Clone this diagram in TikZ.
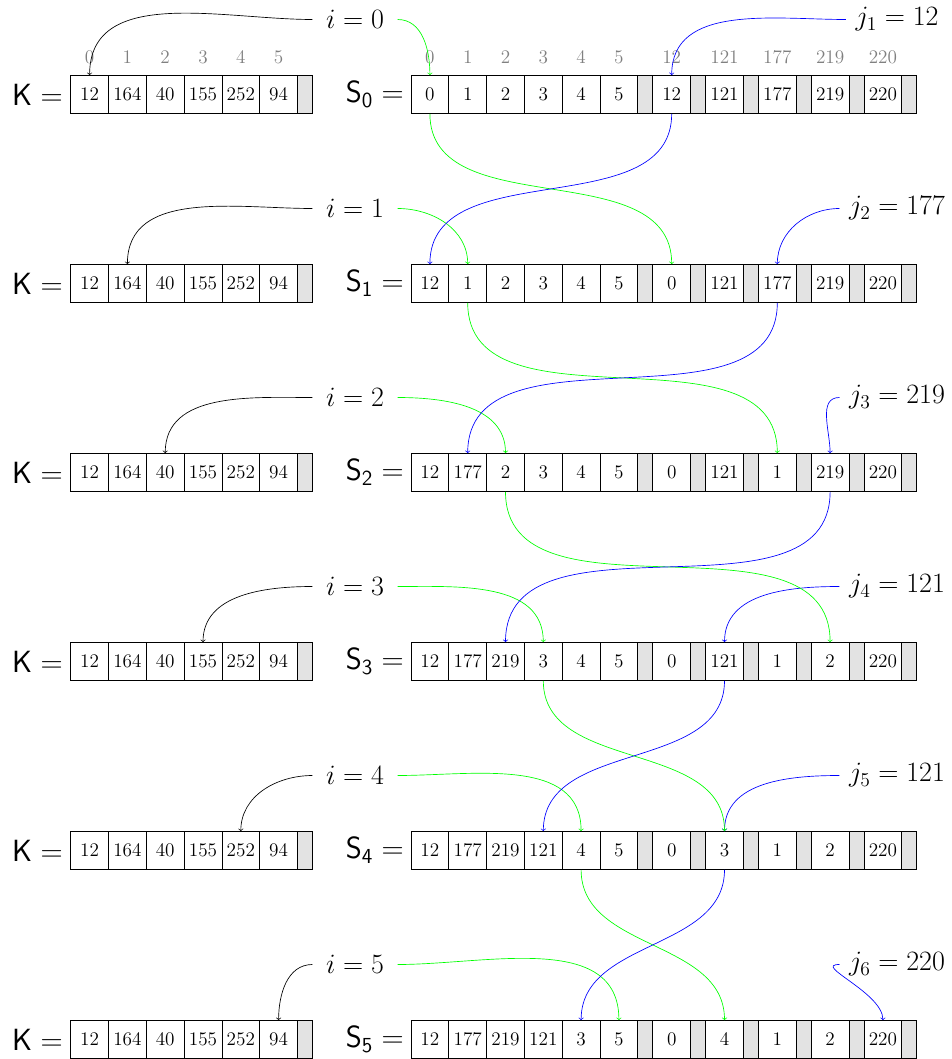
\documentclass[tikz,border=0pt]{standalone}
\usepackage{fix-cm}
\usepackage{amsmath}
\begin{document}
\begin{tikzpicture}[x=0.75pt,y=-0.75pt,
  cell/.style={draw=black, line width=0.6pt, minimum width=28.35pt, minimum height=28.3pt,
               inner sep=0pt, font=\fontsize{14.4}{16}\selectfont, anchor=center},
  gcell/.style={cell, fill=black!11, minimum width=11.25pt},
  idx/.style={text=black!50, font=\fontsize{14.4}{16}\selectfont, inner sep=0pt, anchor=center},
  lab/.style={font=\fontsize{21}{25}\selectfont, inner sep=0pt, anchor=center},
  slab/.style={font=\fontsize{23}{27}\selectfont, inner sep=0pt, anchor=east},
  ilab/.style={lab, inner xsep=10pt},
  jlab/.style={lab, inner xsep=7pt},
  arr/.style={->, line width=0.5pt},
]
\useasboundingbox (0,0) rectangle (952,1059);
\def\Sxs{{429.9,467.7,505.5,543.3,581.1,618.9,671.7,724.5,777.3,830.1,882.9}}
% rows
\foreach \r/\yy/\vals in {0/94.5/{0,1,2,3,4,5,12,121,177,219,220},
                      1/283.5/{12,1,2,3,4,5,0,121,177,219,220},
                      2/472.5/{12,177,2,3,4,5,0,121,1,219,220},
                      3/661.5/{12,177,219,3,4,5,0,121,1,2,220},
                      4/850.5/{12,177,219,121,4,5,0,3,1,2,220},
                      5/1039.5/{12,177,219,121,3,5,0,4,1,2,220}} {
  \node[slab] (Kl-\r) at (63,\yy) {$\mathsf{K}=$};
  \node[slab] (Sl-\r) at (404,\yy) {$\mathsf{S}_{\mathsf{\r}}=$};
  \foreach \kv [count=\c from 0] in {12,164,40,155,252,94} {
    \node[cell] (K-\r-\c) at ({89.6+37.8*\c},\yy) {\kv};
  }
  \node[gcell] (KG-\r) at (305,\yy) {};
  \foreach \v [count=\k from 0] in \vals {
    \pgfmathsetmacro\xx{\Sxs[\k]}
    \node[cell] (S-\r-\k) at (\xx,\yy) {\v};
  }
  \foreach \k in {5,...,10} {
    \pgfmathsetmacro\xx{\Sxs[\k]+26.4}
    \node[gcell] (G-\r-\k) at (\xx,\yy) {};
  }
}
% index labels
\foreach \c in {0,...,5} {
  \node[idx] (KI-\c) at ({89.6+37.8*\c},57) {\c};
}
\foreach \v [count=\k from 0] in {0,1,2,3,4,5,12,121,177,219,220} {
  \pgfmathsetmacro\xx{\Sxs[\k]}
  \node[idx] (SI-\k) at (\xx,57) {\v};
}
% labels and pointer arrows
\node[ilab] (i-0) at (355,19.5) {$i=0$};
\node[ilab] (i-1) at (355,208.5) {$i=1$};
\node[ilab] (i-2) at (355,397.5) {$i=2$};
\node[ilab] (i-3) at (355,586.5) {$i=3$};
\node[ilab] (i-4) at (355,775.5) {$i=4$};
\node[ilab] (i-5) at (355,964.5) {$i=5$};
\node[jlab] (j-0) at (897,19.5) {$j_1=12$};
\node[jlab] (j-1) at (897,208.5) {$j_2=177$};
\node[jlab] (j-2) at (897,397.5) {$j_3=219$};
\node[jlab] (j-3) at (897,586.5) {$j_4=121$};
\node[jlab] (j-4) at (897,775.5) {$j_5=121$};
\node[jlab] (j-5) at (897,964.5) {$j_6=220$};
\foreach \r/\jp in {0/6, 1/8, 2/9, 3/7, 4/7, 5/10} {
  \draw[arr] (i-\r.west) to[out=180,in=90] (K-\r-\r.north);
  \draw[arr,green] (i-\r.east) to[out=0,in=90] (S-\r-\r.north);
  \draw[arr,blue] (j-\r.west) to[out=180,in=90] (S-\r-\jp.north);
}
% swaps
\foreach \r/\rn/\jp in {0/1/6, 1/2/8, 2/3/9, 3/4/7, 4/5/7} {
  \draw[arr,green] (S-\r-\r.south) to[out=-90,in=90] (S-\rn-\jp.north);
  \draw[arr,blue] (S-\r-\jp.south) to[out=-90,in=90] (S-\rn-\r.north);
}
\end{tikzpicture}
\end{document}
